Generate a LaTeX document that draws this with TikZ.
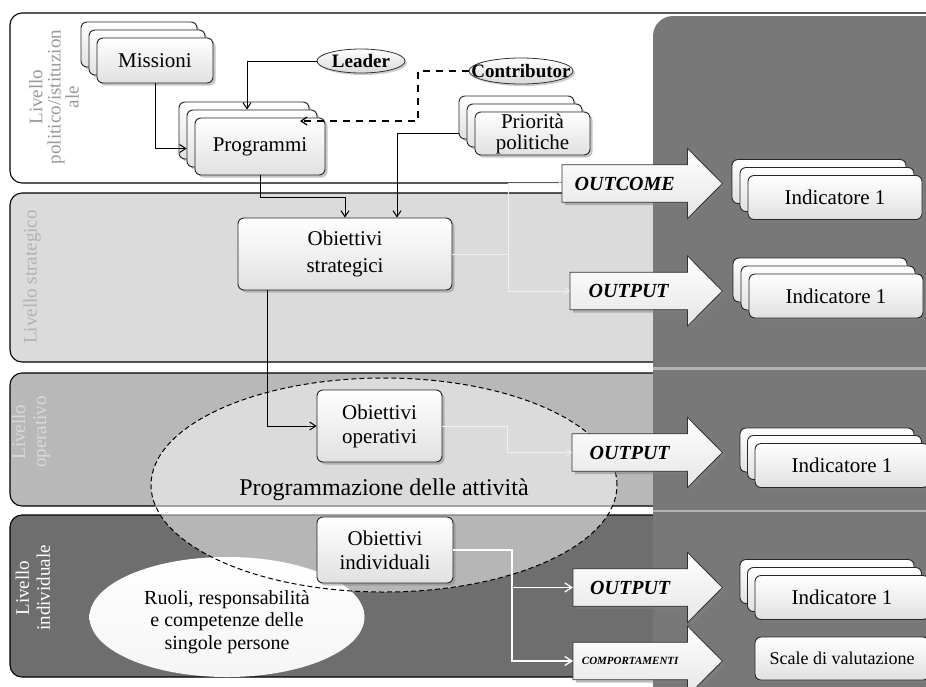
\documentclass[tikz,border=0pt]{standalone}
\usepackage{fontspec}
\setmainfont{Liberation Serif}
\usetikzlibrary{shadows,arrows.meta,calc,shapes.geometric}
\pgfdeclarelayer{bands}
\pgfdeclarelayer{arrowbg}
\pgfsetlayers{bands,arrowbg,main}
\definecolor{panelc}{gray}{0.47}
\definecolor{bandB}{gray}{0.86}
\definecolor{bandC}{gray}{0.72}
\definecolor{bandD}{gray}{0.43}
\newcommand\blockarr[1]{\draw[arrshape] (#1.north west) -- (#1.north east) -- ($(#1.north east)+(0,-16.5)$) -- ($(#1.east)+(35,0)$) -- ($(#1.south east)+(0,16.5)$) -- (#1.south east) -- (#1.south west) -- cycle;}
\begin{document}
\begin{tikzpicture}[x=1pt,y=-1pt,
  box/.style={draw=black!85, line width=0.9pt, rounded corners=6pt, top color=white, bottom color=black!12,
    drop shadow={shadow xshift=2.5pt, shadow yshift=-2.5pt, opacity=0.45}, align=center, inner sep=0pt,
    font=\fontsize{21}{25}\selectfont},
  stA/.style={box, minimum width=116pt, minimum height=45pt},
  stP/.style={box, minimum width=130pt, minimum height=57pt},
  stQ/.style={box, minimum width=115pt, minimum height=43pt},
  ind/.style={box, minimum width=174pt, minimum height=44pt},
  conn/.style={line width=1pt, draw=black, -{Straight Barb[length=6pt,width=8pt]}},
  lconn/.style={line width=0.8pt, draw=black!6, -{Straight Barb[length=5pt,width=7pt]}},
  wconn/.style={line width=1.3pt, draw=white, -{Straight Barb[length=7pt,width=9pt]}},
  arrtext/.style={font=\fontsize{20}{22}\selectfont\bfseries\itshape, inner sep=0pt, minimum height=37pt, anchor=west},
  arrshape/.style={draw=black!80, line width=0.8pt, top color=white, bottom color=black!10,
    drop shadow={shadow xshift=3pt, shadow yshift=-3pt, opacity=0.5}},
  band/.style={draw=black, line width=1.1pt, rounded corners=12pt},
  blabel/.style={rotate=90, align=center, font=\fontsize{19}{19}\selectfont},
  oval/.style={ellipse, draw=black!80, line width=0.8pt, top color=white, bottom color=black!15, inner sep=0pt,
    drop shadow={shadow xshift=2pt, shadow yshift=-2pt, opacity=0.4}},
]
\useasboundingbox (0,0) rectangle (926,686);

\begin{pgfonlayer}{bands}
  \fill[white] (0,0) rectangle (926,686);
  \draw[band, fill=white] (10,13) rectangle (960,183);
  \draw[band, fill=bandB] (10,193) rectangle (960,362);
  \draw[band, fill=bandC] (10,373) rectangle (960,506);
  \draw[band, fill=bandD] (10,515) rectangle (960,677);
  \fill[panelc, rounded corners=20pt] (653,16) rectangle (990,730);
  \draw[black!30, line width=3pt] (653,368) -- (926,368);
  \draw[black!30, line width=2pt] (653,511) -- (926,511);
  \node[ellipse, top color=white, bottom color=black!4, inner sep=0pt, minimum width=275pt, minimum height=120pt] (ruoliell) at (227,617) {};
  \node[ellipse, draw=black, dashed, dash pattern=on 5pt off 3pt, line width=1pt, fill=white, fill opacity=0.5,
        minimum width=466pt, minimum height=214pt, inner sep=0pt] (progell) at (384,485) {};
\end{pgfonlayer}

% band labels
\node[blabel, text=black!40, font=\fontsize{19}{18}\selectfont] (l1) at (54,97) {Livello\\politico/istituzion\\ale};
\node[blabel, text=black!30] (l2) at (32,277) {Livello strategico};
\node[blabel, text=white!85!black, font=\fontsize{19}{21}\selectfont] (l3) at (31,432) {Livello\\operativo};
\node[blabel, text=white, font=\fontsize{19}{21}\selectfont] (l4) at (33,588) {Livello\\individuale};

% ellipse texts
\node[font=\fontsize{24}{28}\selectfont] (progtxt) at (384,490) {Programmazione delle attività};
\node[align=center, font=\fontsize{20}{22.5}\selectfont] (ruolitxt) at (227,622) {Ruoli, responsabilità\\e competenze delle\\singole persone};

% top level nodes
\node[stA] (miss2) at (139,44.5) {};
\node[stA] (miss1) at (147,52.5) {};
\node[stA] (miss) at (155,60.5) {Missioni};

\node[stP] (prog2) at (244,130.5) {};
\node[stP] (prog1) at (252,138.5) {};
\node[stP] (prog) at (260,146.5) {Programmi};

\node[stQ] (prio2) at (516.5,117.5) {};
\node[stQ] (prio1) at (524.5,125.5) {};
\node[stQ, font=\fontsize{21}{21}\selectfont] (prio) at (532.5,133.5) {Priorità\\politiche};

\node[oval, minimum width=88pt, minimum height=24pt] (lead) at (361,61) {};
\node[font=\fontsize{19}{20}\selectfont\bfseries] (leadt) at (lead) {Leader};
\node[oval, minimum width=104pt, minimum height=26pt] (contr) at (521,71) {};
\node[font=\fontsize{19}{20}\selectfont\bfseries] (contrt) at (contr) {Contributor};

% objectives
\node[box, minimum width=214pt, minimum height=72pt, font=\fontsize{21}{27}\selectfont] (strat) at (345,254) {Obiettivi\\strategici};
\node[box, minimum width=125pt, minimum height=72pt, font=\fontsize{21}{24}\selectfont] (oper) at (379.5,426) {Obiettivi\\operativi};
\node[box, minimum width=136pt, minimum height=66pt, font=\fontsize{21}{24}\selectfont] (indiv) at (385,550) {Obiettivi\\individuali};

% block arrows
\node[arrtext, minimum width=125pt] (oc) at (562,183.5) {OUTCOME};
\node[arrtext, minimum width=117pt] (op1) at (570,291) {OUTPUT};
\node[arrtext, minimum width=115pt] (op2) at (572,452.5) {OUTPUT};
\node[arrtext, minimum width=114pt] (op3) at (573,587.5) {OUTPUT};
\node[arrtext, minimum width=114pt, font=\fontsize{11}{12}\selectfont\bfseries\itshape] (comp) at (573,661) {COMPORTAMENTI};
\begin{pgfonlayer}{arrowbg}
  \blockarr{oc}
  \blockarr{op1}
  \blockarr{op2}
  \blockarr{op3}
  \blockarr{comp}
\end{pgfonlayer}

% indicators
\node[ind] (ia3) at (819,181.5) {};
\node[ind] (ia2) at (827,189.5) {};
\node[ind] (ia1) at (835,197.5) {Indicatore 1};
\node[ind] (ib3) at (820,280) {};
\node[ind] (ib2) at (828,288) {};
\node[ind] (ib1) at (836,296) {Indicatore 1};
\node[ind] (ic3) at (827,450) {};
\node[ind] (ic2) at (834.5,457.5) {};
\node[ind] (ic1) at (842,465.5) {Indicatore 1};
\node[ind] (id3) at (827,581.5) {};
\node[ind] (id2) at (834.5,589.5) {};
\node[ind] (id1) at (842,597.5) {Indicatore 1};
\node[ind, minimum height=43pt, font=\fontsize{18}{20}\selectfont] (scale) at (842,658.5) {Scale di valutazione};

% connectors
\draw[conn] (miss.south) |- ([yshift=-10pt]prog1.west);
\draw[conn] (lead.west) -| ([xshift=-5pt]prog1.north);
\coordinate (cbend) at (418,121);
\coordinate (ctip) at (300,121);
\draw[conn, line width=1.2pt, dashed, dash pattern=on 7pt off 6pt] (contr.west) -| (cbend) -- (ctip);
\draw[conn] (prog.south) |- ($(strat.north)+(0,-20)$) -- (strat.north);
\draw[conn] (prio2.west |- prio.west) -| ([xshift=52pt]strat.north);
\coordinate (sbr) at (508,254);
\draw[lconn] (strat.east) -- (sbr) |- (oc.west);
\draw[lconn] (sbr) |- (op1.west);
\draw[conn] ([xshift=-78pt]strat.south) |- (oper.west);
\draw[lconn] (oper.east) -| ($(op2.west)+(-65,0)$) -- (op2.west);
\coordinate (ibr) at ($(op3.west)+(-61,0)$);
\draw[wconn] (indiv.east) -| (ibr) -- (op3.west);
\draw[wconn] (ibr) |- (comp.west);
\end{tikzpicture}
\end{document}
